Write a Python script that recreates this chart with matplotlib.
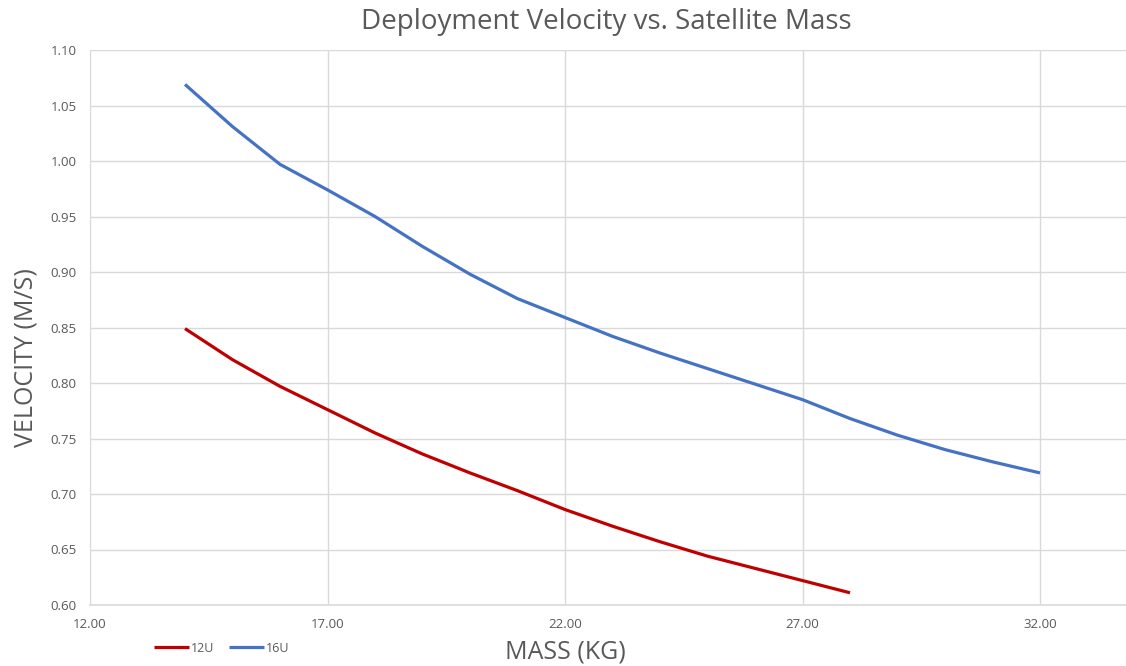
import matplotlib
matplotlib.use("Agg")
from matplotlib import pyplot as plt
import numpy as np

# data
mass_12u = [14, 15, 16, 17, 18, 19, 20, 21, 22, 23, 24, 25, 26, 27, 28]
vel_12u = [0.849, 0.821, 0.797, 0.776, 0.755, 0.736, 0.719, 0.703, 0.686,
           0.671, 0.657, 0.644, 0.633, 0.622, 0.611]

mass_16u = [14, 15, 16, 17, 18, 19, 20, 21, 22, 23, 24, 25, 26, 27, 28,
            29, 30, 31, 32]
vel_16u = [1.069, 1.031, 0.997, 0.974, 0.950, 0.923, 0.898, 0.876, 0.859,
           0.842, 0.827, 0.813, 0.799, 0.785, 0.768, 0.753, 0.740, 0.729,
           0.719]

x_ticks = [12, 17, 22, 27, 32]
y_ticks = [0.60, 0.65, 0.70, 0.75, 0.80, 0.85, 0.90, 0.95, 1.00, 1.05, 1.10]

plt.rcParams['font.family'] = ['Open Sans', 'DejaVu Sans']
txt = '#595959'
grid = '#d9d9d9'

fig = plt.figure(figsize=(11.26, 6.66), dpi=100)
ax = fig.add_axes([90/1126, 61/666, 1036/1126, 555/666])

ax.plot(mass_12u, vel_12u, color='#C00000', lw=2.3, label='12U',
        solid_capstyle='butt')
ax.plot(mass_16u, vel_16u, color='#4472C4', lw=2.3, label='16U',
        solid_capstyle='butt')

ax.set_xlim(12, 12 + 1036/47.5)
ax.set_ylim(0.60, 1.10)
ax.set_xticks(x_ticks)
ax.set_yticks(y_ticks)
ax.set_xticklabels(['%.2f' % v for v in x_ticks])
ax.set_yticklabels(['%.2f' % v for v in y_ticks])
ax.tick_params(length=0, labelsize=9.5, labelcolor=txt)
ax.tick_params(axis='y', pad=9.5)
ax.tick_params(axis='x', pad=9)
ax.grid(True, color=grid, lw=1)
ax.set_axisbelow(True)
for s in ['top', 'right', 'left']:
    ax.spines[s].set_visible(False)
ax.spines['bottom'].set_color(grid)
ax.spines['bottom'].set_linewidth(1.2)

fig.text(606/1126, 1 - 22/666, 'Deployment Velocity vs. Satellite Mass',
         ha='center', va='center', fontsize=20, color=txt)
fig.text(26/1126, 1 - 358/666, 'VELOCITY (M/S)', rotation=90,
         ha='center', va='center', fontsize=18, color=txt)
fig.text(565/1126, 1 - 652/666, 'MASS (KG)', ha='center', va='center',
         fontsize=18, color=txt)

fig.legend(loc='center left', bbox_to_anchor=(154/1126, 1 - 648/666),
           ncol=2, frameon=False, fontsize=9, labelcolor=txt,
           handlelength=2.8, handletextpad=0.15, columnspacing=1.2,
           borderpad=0, borderaxespad=0)

fig.savefig('out.png', dpi=100, facecolor='white')
